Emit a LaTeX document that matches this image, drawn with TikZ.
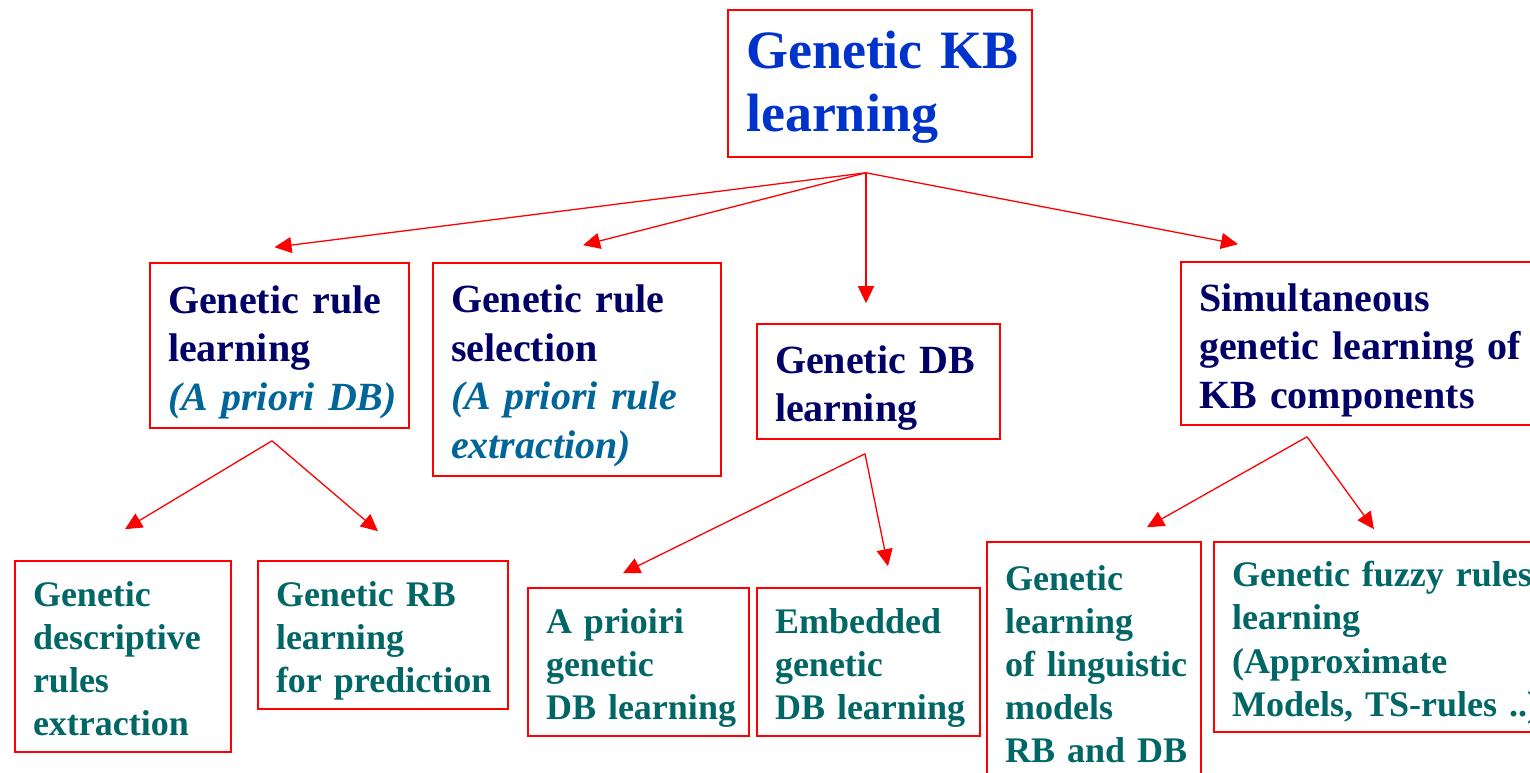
\documentclass[tikz,border=0pt]{standalone}
\usepackage{fontspec}
\setmainfont{Liberation Serif}
\usetikzlibrary{arrows.meta}
\definecolor{boxred}{RGB}{255,0,0}
\definecolor{rootblue}{RGB}{0,51,204}
\definecolor{navy}{RGB}{0,0,102}
\definecolor{itblue}{RGB}{0,102,153}
\definecolor{teal3}{RGB}{0,102,102}
\newcommand{\nobreaks}{\hyphenpenalty=10000 \exhyphenpenalty=10000 \hbadness=10000 \hfuzz=200pt}
\tikzset{
  kbox/.style={draw=boxred, line width=1.6pt, rectangle, inner xsep=18pt, inner ysep=0pt, align=left,
    execute at end node={\rule[-0.3em]{0pt}{0pt}}},
  rootbox/.style={kbox, text=rootblue, font=\fontsize{54}{63}\selectfont\bfseries,
    execute at begin node={\nobreaks\rule{0pt}{0.9em}}},
  lvtwo/.style={kbox, text=navy, font=\fontsize{40}{48.5}\selectfont\bfseries,
    execute at begin node={\nobreaks\rule{0pt}{1.1em}}},
  lvthree/.style={kbox, text=teal3, font=\fontsize{36}{43.2}\selectfont\bfseries,
    execute at begin node={\nobreaks\rule{0pt}{1.1em}}},
  arr/.style={draw=boxred, line width=1.3pt, -{Triangle[length=17pt,width=16pt]}, color=boxred}
}
\newcommand{\itl}[1]{{\itshape\color{itblue}#1}}
\begin{document}
\begin{tikzpicture}[x=1pt,y=-1pt]
\useasboundingbox (0,0) rectangle (1530,773);
\clip (0,0) rectangle (1530,773);
\fill[white] (0,0) rectangle (1530,773);
% root
\node[rootbox, minimum width=304pt, minimum height=147pt, text width=268pt] (root) at (880,83.5) {Genetic~KB\\learning};
% level 2
\node[lvtwo, minimum width=259pt, minimum height=165pt, text width=223pt] (A) at (279.5,345.5) {Genetic~rule\\learning\\\itl{(A~priori~DB)}};
\node[lvtwo, minimum width=288pt, minimum height=213pt, text width=252pt] (B) at (577,369.5) {Genetic~rule\\selection\\\itl{(A~priori~rule}\\\itl{extraction)}};
\node[lvtwo, minimum width=243pt, minimum height=115pt, text width=207pt] (C) at (878.5,381.5) {Genetic~DB\\learning};
\node[lvtwo, minimum width=366pt, minimum height=163pt, text width=330pt] (D) at (1364,343.5) {Simultaneous\\genetic~learning~of\\KB~components};
% level 3
\node[lvthree, minimum width=216pt, minimum height=191pt, text width=180pt] (E) at (123,656.5) {Genetic\\descriptive\\rules\\extraction};
\node[lvthree, minimum width=250pt, minimum height=148pt, text width=214pt] (F) at (383,635) {Genetic~RB\\learning\\for~prediction};
\node[lvthree, minimum width=221pt, minimum height=148pt, text width=185pt] (G) at (638.5,662) {A~prioiri\\genetic\\DB~learning};
\node[lvthree, minimum width=223pt, minimum height=148pt, text width=187pt] (H) at (868.5,662) {Embedded\\genetic\\DB~learning};
\node[lvthree, minimum width=214pt, minimum height=240pt, text width=178pt] (I) at (1094,662) {Genetic\\learning\\of~linguistic\\models\\RB~and~DB};
\node[lvthree, minimum width=333pt, minimum height=190pt, text width=297pt] (J) at (1380.5,637) {Genetic~fuzzy~rules\\learning\\(Approximate\\Models,~TS-rules~..)};
% connector start points
\coordinate (rootout) at ([xshift=-14pt,yshift=-15pt]root.south);
\coordinate (Aout) at ([xshift=-7.5pt,yshift=-12pt]A.south);
\coordinate (Cout) at ([xshift=-13.5pt,yshift=-14pt]C.south);
\coordinate (Dout) at ([xshift=-57pt,yshift=-11pt]D.south);
% connectors
\draw[arr] (rootout) -- ([xshift=-5pt,yshift=15pt]A.north);
\draw[arr] (rootout) -- ([xshift=6pt,yshift=17pt]B.north);
\draw[arr] (rootout) -- ([xshift=-12.5pt,yshift=20pt]C.north);
\draw[arr] (rootout) -- ([xshift=-126pt,yshift=17pt]D.north);
\draw[arr] (Aout) -- ([xshift=2pt,yshift=31pt]E.north);
\draw[arr] (Aout) -- ([xshift=-5pt,yshift=29pt]F.north);
\draw[arr] (Cout) -- ([xshift=-15.5pt,yshift=14pt]G.north);
\draw[arr] (Cout) -- ([xshift=19.5pt,yshift=21pt]H.north);
\draw[arr] (Dout) -- ([xshift=53pt,yshift=14pt]I.north);
\draw[arr] (Dout) -- ([xshift=-6.5pt,yshift=12pt]J.north);
\end{tikzpicture}
\end{document}
